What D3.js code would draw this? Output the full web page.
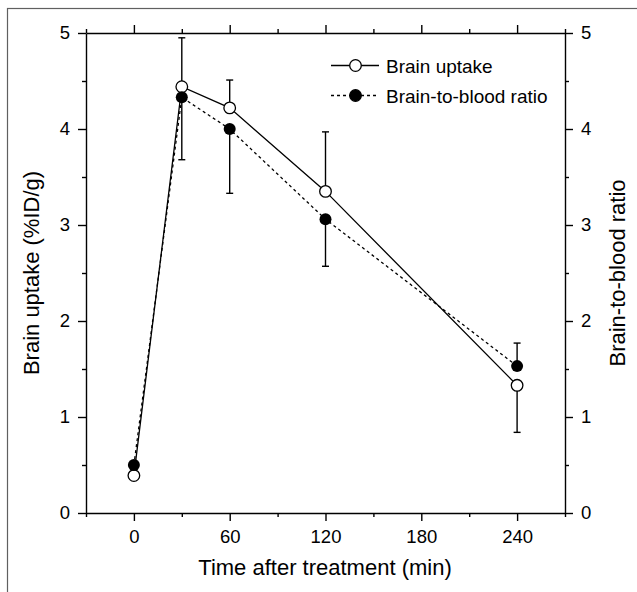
<!DOCTYPE html>
<html>
<head>
<meta charset="utf-8">
<script src="https://cdn.jsdelivr.net/npm/d3@7"></script>
<style>
  body { margin: 0; background: #fff; }
  svg { font-family: Arial, "Liberation Sans", sans-serif; }
  .axis path, .axis line { stroke: #000; stroke-width: 1.4; }
  .axis text { font-size: 18.5px; fill: #000; }
</style>
</head>
<body>
<div id="chart"></div>
<script>
// data
var times = [0, 30, 60, 120, 240];
var uptake = [0.39, 4.44, 4.22, 3.35, 1.33];      // Brain uptake (%ID/g)
var uptakeErr = [0, 0.51, 0.29, 0.62, 0.49];
var ratio = [0.50, 4.33, 4.00, 3.06, 1.53];       // Brain-to-blood ratio
var ratioErr = [0, 0.65, 0.67, 0.49, 0.24];

var xMajor = [0, 60, 120, 180, 240];
var xMinor = [-30, 30, 90, 150, 210, 270];
var yMajor = [0, 1, 2, 3, 4, 5];
var yMinor = [0.5, 1.5, 2.5, 3.5, 4.5];

var svgWidth = 637, svgHeight = 592;
var margin = {top: 33, right: 72, bottom: 79, left: 86};
var width = svgWidth - margin.left - margin.right,
    height = svgHeight - margin.top - margin.bottom;

var svg = d3.select("#chart").append("svg")
  .attr("width", svgWidth)
  .attr("height", svgHeight);

// grey frame round the figure
svg.append("rect")
  .attr("x", 7.5).attr("y", 8.5)
  .attr("width", 640).attr("height", 600)
  .attr("fill", "none")
  .attr("stroke", "#606060")
  .attr("stroke-width", 1.2);

var g = svg.append("g")
  .attr("transform", "translate(" + margin.left + "," + margin.top + ")");

var x = d3.scaleLinear().domain([-30, 270]).range([0, width]);
var yLeft = d3.scaleLinear().domain([0, 5]).range([height, 0]);
var yRight = d3.scaleLinear().domain([0, 5]).range([height, 0]);

// axes: major ticks with labels, minor ticks without
function addAxis(axisFn, scale, major, minor, transform, labels, pad) {
  var a = g.append("g").attr("class", "axis").attr("transform", transform);
  a.call(axisFn(scale).tickValues(major).tickSize(8).tickSizeOuter(0)
    .tickPadding(pad).tickFormat(labels ? d3.format("d") : ""));
  var m = g.append("g").attr("class", "axis").attr("transform", transform);
  m.call(axisFn(scale).tickValues(minor).tickSize(4).tickSizeOuter(0).tickFormat(""));
  m.select(".domain").remove();
  return a;
}
addAxis(d3.axisBottom, x, xMajor, xMinor, "translate(0," + height + ")", true, 9);
addAxis(d3.axisTop, x, xMajor, xMinor, "translate(0,0)", false, 6);
addAxis(d3.axisLeft, yLeft, yMajor, yMinor, "translate(0,0)", true, 8);
addAxis(d3.axisRight, yRight, yMajor, yMinor, "translate(" + width + ",0)", true, 8);

// axis titles
svg.append("text")
  .attr("x", 325).attr("y", 575)
  .attr("text-anchor", "middle").style("font-size", "22px")
  .text("Time after treatment (min)");
svg.append("text")
  .attr("transform", "translate(39," + (margin.top + height / 2) + ") rotate(-90)")
  .attr("text-anchor", "middle").style("font-size", "22px")
  .text("Brain uptake (%ID/g)");
svg.append("text")
  .attr("transform", "translate(625," + (margin.top + height / 2) + ") rotate(-90)")
  .attr("text-anchor", "middle").style("font-size", "22px")
  .text("Brain-to-blood ratio");

// lines
var lineUp = d3.line().x(function(d, i) { return x(times[i]); }).y(function(d) { return yLeft(d); });
var lineRatio = d3.line().x(function(d, i) { return x(times[i]); }).y(function(d) { return yRight(d); });

g.append("path").datum(uptake)
  .attr("d", lineUp).attr("fill", "none")
  .attr("stroke", "#000").attr("stroke-width", 1.3);
g.append("path").datum(ratio)
  .attr("d", lineRatio).attr("fill", "none")
  .attr("stroke", "#000").attr("stroke-width", 1.3)
  .attr("stroke-dasharray", "3,3");

// error bars: the higher series of each pair gets its bar upward, the lower one downward
function errorBars(vals, errs, other, scale) {
  times.forEach(function(t, i) {
    if (!errs[i]) return;
    var dir = vals[i] >= other[i] ? 1 : -1;
    var y0 = scale(vals[i]), y1 = scale(vals[i] + dir * errs[i]);
    g.append("line").attr("x1", x(t)).attr("x2", x(t)).attr("y1", y0).attr("y2", y1)
      .attr("stroke", "#000").attr("stroke-width", 1.4);
    g.append("line").attr("x1", x(t) - 3.5).attr("x2", x(t) + 3.5).attr("y1", y1).attr("y2", y1)
      .attr("stroke", "#000").attr("stroke-width", 1.4);
  });
}
errorBars(uptake, uptakeErr, ratio, yLeft);
errorBars(ratio, ratioErr, uptake, yRight);

// markers
g.selectAll(".open").data(uptake).enter().append("circle")
  .attr("cx", function(d, i) { return x(times[i]); })
  .attr("cy", function(d) { return yLeft(d); })
  .attr("r", 5.8).attr("fill", "#fff").attr("stroke", "#000").attr("stroke-width", 1.3);
g.selectAll(".filled").data(ratio).enter().append("circle")
  .attr("cx", function(d, i) { return x(times[i]); })
  .attr("cy", function(d) { return yRight(d); })
  .attr("r", 6).attr("fill", "#000");

// legend
var legend = svg.append("g");
var legendItems = [
  {label: "Brain uptake", dash: null, fill: "#fff", y: 65.5},
  {label: "Brain-to-blood ratio", dash: "3,3", fill: "#000", y: 95.5}
];
legendItems.forEach(function(d) {
  legend.append("line").attr("x1", 331).attr("x2", 379).attr("y1", d.y).attr("y2", d.y)
    .attr("stroke", "#000").attr("stroke-width", 1.3)
    .attr("stroke-dasharray", d.dash);
  legend.append("circle").attr("cx", 355.5).attr("cy", d.y).attr("r", 5.8)
    .attr("fill", d.fill).attr("stroke", "#000").attr("stroke-width", 1.3);
  legend.append("text").attr("x", 386).attr("y", d.y + 7)
    .style("font-size", "19px").text(d.label);
});
</script>
</body>
</html>
